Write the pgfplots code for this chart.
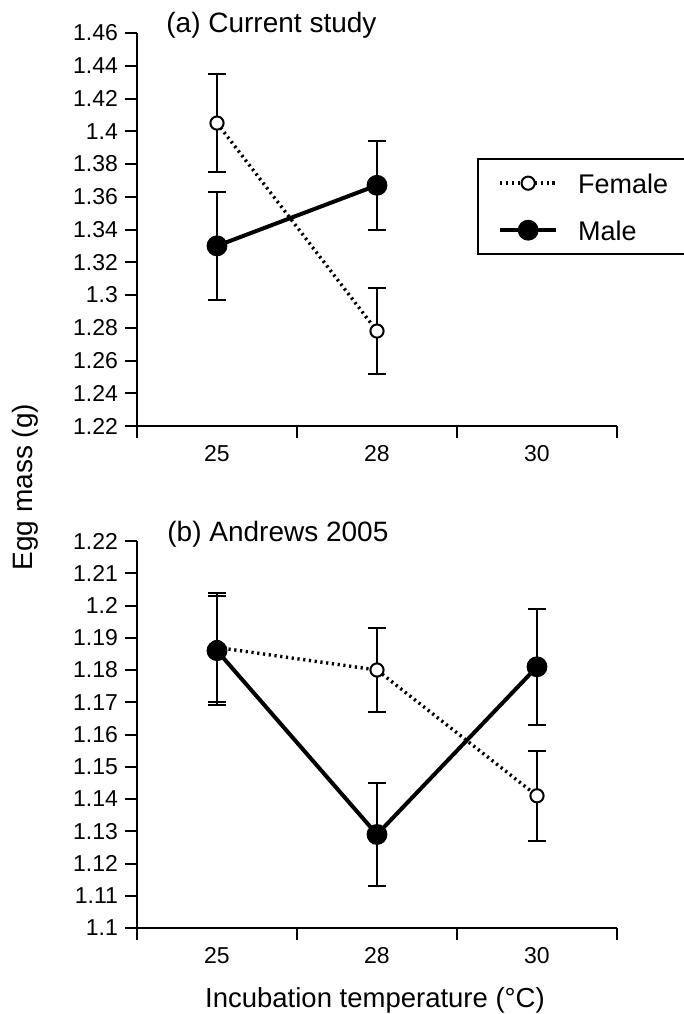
\documentclass[border=0pt]{standalone}
\usepackage{fontspec}
\setmainfont{Liberation Sans}
\usepackage{pgfplots}
\pgfplotsset{compat=1.18}

\pgfplotsset{
  eggaxis/.style={
    scale only axis, width=240pt,
    xmin=0, xmax=3, clip=false,
    axis x line*=bottom, axis y line*=left,
    axis line style={line width=1pt, black},
    tick style={line width=1pt, black},
    tick align=outside,
    major tick length=6pt, minor tick length=6pt,
    xtick={0.5,1.5,2.5}, xticklabels={25,28,30},
    major x tick style={draw=none},
    minor xtick={0,1,2,3},
    ticklabel style={font=\fontsize{11.5}{13}\selectfont},
    /pgf/number format/assume math mode=true,
  },
  female/.style={black, line width=1.7pt, dash pattern=on 1.1pt off 1.8pt,
    mark=*, mark size=3.3pt, mark options={solid, fill=white, line width=1pt}},
  male/.style={black, line width=2pt, solid,
    mark=*, mark size=4.2pt, mark options={solid, fill=black}},
  eb/.style={error bars/.cd, y dir=both, y explicit, error mark=-,
    error bar style={solid, line width=1pt, black},
    error mark options={solid, rotate=90, line width=1pt, mark size=4.5pt, black}},
}

\begin{document}
\begin{tikzpicture}

% (a) current study
\begin{axis}[eggaxis, at={(0pt,0pt)}, anchor=south west,
    height=196.5pt, ymin=1.22, ymax=1.46,
    ytick={1.22,1.24,1.26,1.28,1.30,1.32,1.34,1.36,1.38,1.40,1.42,1.44,1.46},
    yticklabels={1.22,1.24,1.26,1.28,1.3,1.32,1.34,1.36,1.38,1.4,1.42,1.44,1.46},
    legend cell align=left,
    legend style={at={(0.7083,0.682)}, anchor=north west, draw=black, line width=1.2pt,
      font=\fontsize{13.5}{16}\selectfont,
      nodes={inner sep=0pt, text height=10pt, text depth=0pt},
      row sep=13.5pt, column sep=10pt, inner xsep=10pt, inner ysep=7pt},
    legend image code/.code={\draw[mark repeat=2, mark phase=2, #1] plot coordinates {(0pt,0pt) (14pt,0pt) (28pt,0pt)};},
  ]
\addplot[female, eb] coordinates {(0.5,1.405) +- (0,0.030) (1.5,1.278) +- (0,0.026)};
\addplot[male, eb] coordinates {(0.5,1.330) +- (0,0.033) (1.5,1.367) +- (0,0.027)};
\legend{Female, Male}
\end{axis}

% (b) Andrews 2005
\begin{axis}[eggaxis, at={(0pt,-251pt)}, anchor=south west,
    height=193.5pt, ymin=1.10, ymax=1.22,
    ytick={1.10,1.11,1.12,1.13,1.14,1.15,1.16,1.17,1.18,1.19,1.20,1.21,1.22},
    yticklabels={1.1,1.11,1.12,1.13,1.14,1.15,1.16,1.17,1.18,1.19,1.2,1.21,1.22},
  ]
\addplot[female, eb] coordinates {(0.5,1.187) +- (0,0.017) (1.5,1.180) +- (0,0.013) (2.5,1.141) +- (0,0.014)};
\addplot[male, eb] coordinates {(0.5,1.186) +- (0,0.017) (1.5,1.129) +- (0,0.016) (2.5,1.181) +- (0,0.018)};
\end{axis}

\node[anchor=base west, inner sep=0pt, font=\fontsize{14}{16}\selectfont] at (14.5pt,197pt) {(a) Current study};
\node[anchor=base west, inner sep=0pt, font=\fontsize{14}{16}\selectfont] at (15pt,-57.5pt) {(b) Andrews 2005};
\node[anchor=base, rotate=90, inner sep=0pt, font=\fontsize{14}{16}\selectfont] at (-52pt,-30.5pt) {Egg mass (g)};
\node[anchor=base, inner sep=0pt, font=\fontsize{13.75}{16}\selectfont] at (119pt,-290.5pt) {Incubation temperature (°C)};

\pgfresetboundingbox
\path (-68.5pt,-294pt) rectangle (273.5pt,213pt);
\end{tikzpicture}
\end{document}
